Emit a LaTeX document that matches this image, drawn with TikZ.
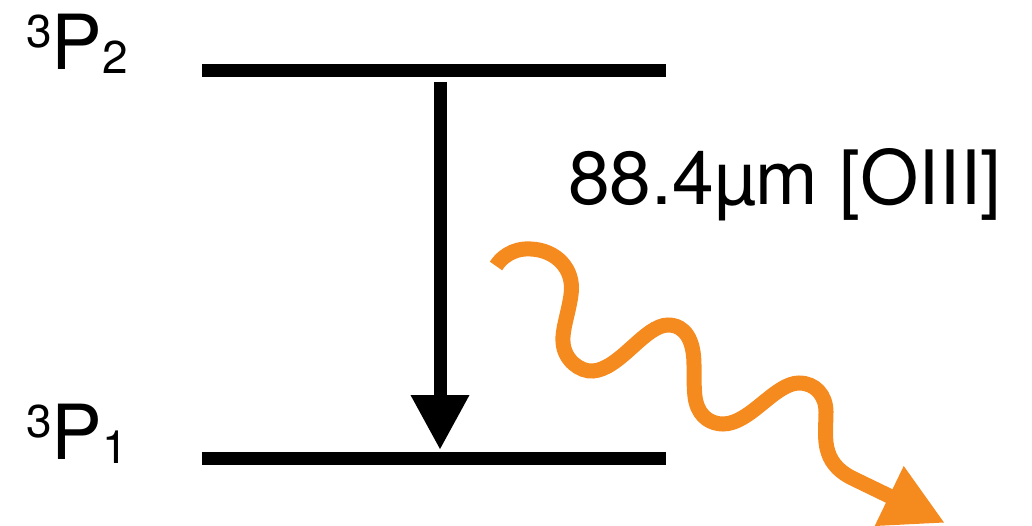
\documentclass[tikz,border=0pt]{standalone}
\usepackage{fontspec}
\setmainfont{TeX Gyre Heros}
\usetikzlibrary{arrows.meta}
\definecolor{photon}{HTML}{F58A1F}
\tikzset{
  level/.style={line width=13pt},
  trans/.style={line width=13pt,-{Triangle[length=55pt,width=55pt]}},
  wave/.style={photon,line width=15pt,-{Triangle[length=62pt,width=62pt]}},
  lbl/.style={inner sep=0pt,anchor=base west,font=\fontsize{76}{80}\selectfont},
}
\newcommand{\smallnum}[2]{{\fontsize{46}{46}\selectfont\raisebox{#1}{#2}}}
\begin{document}
\begin{tikzpicture}[x=1pt,y=-1pt]
\useasboundingbox (0,0) rectangle (1032,526);
\coordinate (u1) at (202,71);
\coordinate (u2) at (666,71);
\coordinate (l1) at (202,458);
\coordinate (l2) at (666,458);
\coordinate (a1) at (440,82);
\coordinate (a2) at (440,450);
\coordinate (w0) at (496,266);
\coordinate (w1) at (945,523);
\draw[level] (u1) -- (u2);
\draw[level] (l1) -- (l2);
\draw[trans] (a1) -- (a2);
\node[lbl] (p2) at (26,70) {\smallnum{22pt}{3}P\smallnum{-4pt}{2}};
\node[lbl] (p1) at (26,459) {\smallnum{22pt}{3}P\smallnum{-4pt}{1}};
\node[lbl,font=\fontsize{75}{80}\selectfont] (tx) at (568,205) {88.4µm [OIII]};
\draw[wave] (w0) .. controls (505,252) and (520,248) .. (531,249)
 .. controls (555,250) and (575,268) .. (571,295)
 .. controls (568,315) and (562,330) .. (563,342)
 .. controls (564,360) and (580,372) .. (593,371)
 .. controls (620,369) and (645,325) .. (668,325)
 .. controls (685,325) and (694,340) .. (694,365)
 .. controls (694,380) and (694,395) .. (696,402)
 .. controls (700,418) and (712,424) .. (723,424)
 .. controls (750,424) and (775,383) .. (799,383)
 .. controls (815,383) and (826,395) .. (826,412)
 .. controls (826,425) and (824,440) .. (828,452)
 .. controls (832,465) and (842,473) .. (852,478)
 -- (w1);
\end{tikzpicture}
\end{document}
